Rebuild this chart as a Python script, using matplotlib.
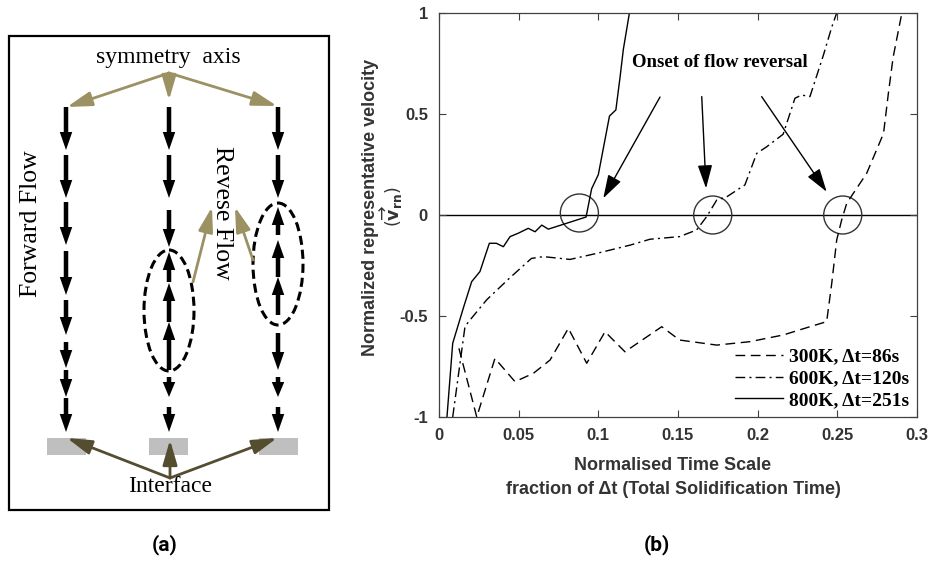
import matplotlib
matplotlib.use("Agg")
import matplotlib.pyplot as plt
from matplotlib.patches import Ellipse, Rectangle, FancyArrowPatch

# ---------------- data (panel b) ----------------
x_800 = [0.005, 0.0086, 0.0153, 0.0205, 0.0257, 0.0316, 0.036, 0.0404, 0.0446, 0.0498,
         0.056, 0.0603, 0.0645, 0.0686, 0.0923, 0.0958, 0.100, 0.107, 0.111, 0.1136, 0.1157, 0.1195]
y_800 = [-1.0, -0.635, -0.46, -0.33, -0.28, -0.14, -0.14, -0.157, -0.107, -0.09,
         -0.066, -0.083, -0.05, -0.07, -0.01, 0.13, 0.2, 0.49, 0.52, 0.68, 0.82, 1.0]

x_600 = [0.0086, 0.0163, 0.0184, 0.0299, 0.0446, 0.058, 0.0655, 0.0822, 0.099, 0.12, 0.1324,
         0.151, 0.1617, 0.168, 0.1743, 0.1806, 0.192, 0.1994, 0.2057, 0.216, 0.2234,
         0.2276, 0.2328, 0.2412, 0.2465, 0.2496]
y_600 = [-1.0, -0.553, -0.53, -0.42, -0.31, -0.215, -0.206, -0.22, -0.19, -0.149, -0.12,
         -0.107, -0.074, -0.008, 0.074, 0.09, 0.149, 0.305, 0.338, 0.40, 0.578,
         0.594, 0.586, 0.79, 0.93, 1.0]

x_300 = [0.0125, 0.0237, 0.0351, 0.0477, 0.0592, 0.0697, 0.0812, 0.0927, 0.1042, 0.1167,
         0.1398, 0.151, 0.1743, 0.1952, 0.216, 0.2328, 0.2433, 0.2465, 0.2496, 0.2527,
         0.2559, 0.26, 0.2684, 0.279, 0.282, 0.285, 0.2905]
y_300 = [-0.66, -1.0, -0.71, -0.825, -0.784, -0.718, -0.561, -0.734, -0.578, -0.677,
         -0.553, -0.619, -0.644, -0.627, -0.594, -0.553, -0.528, -0.338, -0.124, -0.025,
         0.058, 0.107, 0.206, 0.404, 0.6, 0.78, 1.0]

series_labels = ["300K, \u0394t=86s", "600K, \u0394t=120s", "800K, \u0394t=251s"]
onset_x = [0.0881, 0.1718, 0.2534]
onset_y = [0.01, 0.0, 0.0]
xtick_vals = [0, 0.05, 0.1, 0.15, 0.2, 0.25, 0.3]
xtick_labels = ["0", "0.05", "0.1", "0.15", "0.2", "0.25", "0.3"]
ytick_vals = [-1, -0.5, 0, 0.5, 1]
ytick_labels = ["-1", "-0.5", "0", "0.5", "1"]

W, H = 929, 563
fig = plt.figure(figsize=(W / 100, H / 100), dpi=100)

# ---------------- panel (a): schematic on a pixel canvas ----------------
cv = fig.add_axes([0, 0, 1, 1])
cv.set_xlim(0, W)
cv.set_ylim(H, 0)
cv.axis("off")

serif = "Liberation Serif"
olive = "#9b9163"
dark_olive = "#544d30"

cv.add_patch(Rectangle((9, 36), 320, 474, fill=False, ec="black", lw=1.6))

def blk_arrow(x, y0, y1):
    length = abs(y1 - y0)
    hl = min(18, 0.75 * length)
    cv.arrow(x, y0, 0, y1 - y0, width=4.5, head_width=12.5, head_length=hl,
             length_includes_head=True, color="black", lw=0)

col_x = [66, 169, 278]
col_segs = [
    [(107, 150), (155, 198), (202, 245), (251, 295), (300, 335), (342, 368), (370, 397), (398, 432)],
    [(107, 150), (155, 198), (210, 247), (282, 252), (322, 283), (370, 322), (377, 397), (407, 432)],
    [(107, 150), (155, 198), (235, 207), (277, 240), (315, 277), (333, 370), (377, 397), (407, 432)],
]
for cx, segs in zip(col_x, col_segs):
    for y0, y1 in segs:
        blk_arrow(cx, y0, y1)

cv.add_patch(Ellipse((169, 310.5), 50, 121, fill=False, ec="black", lw=2.2, ls=(0, (3, 1.6))))
cv.add_patch(Ellipse((278, 264), 50, 122, fill=False, ec="black", lw=2.2, ls=(0, (3, 1.6))))

for rx in [47, 149, 259]:
    cv.add_patch(Rectangle((rx, 438), 39, 17, fc="#bfbfbf", ec="none"))

def thin_arrow(p0, p1, color):
    cv.add_patch(FancyArrowPatch(p0, p1, arrowstyle="-|>,head_length=0.75,head_width=0.22",
                                 mutation_scale=20, color=color, lw=2.0, shrinkA=0, shrinkB=0))

for tip in [(67, 107), (169, 100), (277, 106)]:
    thin_arrow((169, 73), tip, olive)
thin_arrow((193, 282), (212, 207), olive)
thin_arrow((253, 260), (235, 207), olive)
for tip in [(67, 438), (170, 440), (277, 438)]:
    thin_arrow((170, 478), tip, dark_olive)

cv.text(168, 57, "symmetry  axis", family=serif, fontsize=17, ha="center", va="center")
cv.text(170, 487, "Interface", family=serif, fontsize=17, ha="center", va="center")
cv.text(31, 224, "Forward Flow", family=serif, fontsize=18.5, ha="center", va="center", rotation=90)
cv.text(222, 213, "Revese Flow", family=serif, fontsize=18.5, ha="center", va="center", rotation=-90)

cv.text(165, 545, "(a)", family="Roboto", fontweight="bold", fontsize=15, ha="center", va="center")
cv.text(657, 545, "(b)", family="Roboto", fontweight="bold", fontsize=15, ha="center", va="center")

# ---------------- panel (b): line chart ----------------
L, T, R, B = 439, 13, 917, 417
ax = fig.add_axes([L / W, 1 - B / H, (R - L) / W, (B - T) / H])
ax.set_xlim(0, 0.3)
ax.set_ylim(-1, 1)

lc = "black"
ax.plot(x_300, y_300, color=lc, lw=1.0, ls=(0, (7, 4)), label=series_labels[0])
ax.plot(x_600, y_600, color=lc, lw=1.0, ls=(0, (7, 3, 1.5, 3)), label=series_labels[1])
ax.plot(x_800, y_800, color=lc, lw=1.0, ls="-", label=series_labels[2])
ax.axhline(0, color="black", lw=1.0, zorder=1)

for ox, oy in zip(onset_x, onset_y):
    ax.add_patch(Ellipse((ox, oy), 0.0239, 0.188, fill=False, ec="#333333", lw=1.0))

ax.text(0.1764, 0.757, "Onset of flow reversal", family=serif, fontweight="bold",
        fontsize=13.5, ha="center", va="center")
arrows = [((0.1387, 0.584), (0.1031, 0.083)),
          ((0.1649, 0.586), (0.1676, 0.132)),
          ((0.2025, 0.586), (0.2433, 0.115))]
for (x0, y0), (x1, y1) in arrows:
    ax.annotate("", xy=(x1, y1), xytext=(x0, y0),
                arrowprops=dict(arrowstyle="-|>,head_length=0.9,head_width=0.28",
                                mutation_scale=16, color="black", lw=1.0,
                                shrinkA=0, shrinkB=0))

ax.set_xticks(xtick_vals)
ax.set_xticklabels(xtick_labels)
ax.set_yticks(ytick_vals)
ax.set_yticklabels(ytick_labels)
sans = "Liberation Sans"
ax.tick_params(direction="in", top=True, right=True, length=5, width=0.8,
               colors="#404040", labelcolor="#333333", labelsize=12, pad=8)
for lab in ax.get_xticklabels() + ax.get_yticklabels():
    lab.set_family(sans)
    lab.set_fontweight("bold")
for sp in ax.spines.values():
    sp.set_color("#404040")
    sp.set_linewidth(0.9)

fig.text(673 / W, 1 - 465 / H, "Normalised Time Scale", family=sans, fontweight="bold",
         fontsize=13, color="#333333", ha="center", va="center")
fig.text(673 / W, 1 - 489 / H, "fraction of \u0394t (Total Solidification Time)", family=sans,
         fontweight="bold", fontsize=13, color="#333333", ha="center", va="center")
fig.text(371 / W, 1 - 207 / H, "Normalized representative velocity", family=sans,
         fontweight="bold", fontsize=13, color="#333333", ha="center", va="center", rotation=90)
fig.text(392 / W, 1 - 207 / H, r"$(\overrightarrow{\mathbf{v}}_{\mathbf{rn}})$", fontsize=12.5,
         color="#333333", ha="center", va="center", rotation=90)

leg = ax.legend(loc="lower right", bbox_to_anchor=(1.0, 0.0), frameon=False,
                prop={"family": serif, "weight": "bold", "size": 14},
                handlelength=2.5, handletextpad=0.3, labelspacing=0.22,
                borderaxespad=0.3, borderpad=0.1)

fig.savefig("out.png", dpi=100)
